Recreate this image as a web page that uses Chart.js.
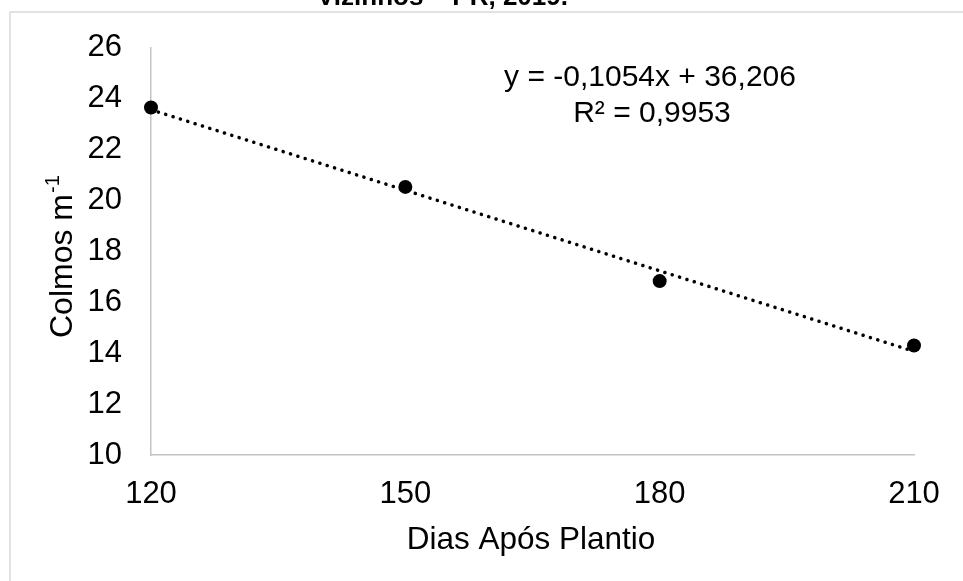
<!DOCTYPE html>
<html>
<head>
<meta charset="utf-8">
<script src="https://cdn.jsdelivr.net/npm/chart.js@4"></script>
<style>
    html, body { margin: 0; padding: 0; background: #ffffff; }
    #chart-wrap { width: 963px; height: 581px; position: relative; }
</style>
</head>
<body>
<div id="chart-wrap"><canvas id="chart-canvas"></canvas></div>
<script>
// Data
const dias = [120, 150, 180, 210];
const colmos = [23.65, 20.53, 16.83, 14.3];

// Linear trendline ends (y = -0,1054x + 36,206)
const trendDias = [120, 210];
const trendColmos = [23.56, 14.07];

const eqLines = ['y = -0,1054x + 36,206', 'R² = 0,9953'];
const captionText = 'Vizinhos – PR, 2019.';
const xTitle = 'Dias Após Plantio';
const yTitle = 'Colmos m';
const yTitleSup = '-1';

const FONT = '"Liberation Sans", Arial, sans-serif';

// Texts that Chart.js can't place the way the figure has them
const extraText = {
    id: 'extraText',
    beforeDraw(chart) {
        const ctx = chart.ctx;
        ctx.save();
        // outer chart frame
        ctx.strokeStyle = '#d9d9d9';
        ctx.lineWidth = 1.5;
        ctx.strokeRect(10, 12, 1100, 800);
        ctx.restore();
    },
    afterDraw(chart) {
        const ctx = chart.ctx;
        const area = chart.chartArea;
        ctx.save();
        ctx.fillStyle = '#000000';

        // caption cut by the top edge
        ctx.font = 'bold 26px ' + FONT;
        ctx.textAlign = 'left';
        ctx.textBaseline = 'alphabetic';
        ctx.fillText(captionText, 317, 5);

        // regression equation
        ctx.font = '30px ' + FONT;
        ctx.textAlign = 'center';
        ctx.fillText(eqLines[0], 650, 86);
        ctx.fillText(eqLines[1], 652, 122);

        // x axis title
        ctx.font = '31.5px ' + FONT;
        ctx.fillText(xTitle, 531, 549);

        // y axis title with superscript
        ctx.translate(72, 338);
        ctx.rotate(-Math.PI / 2);
        ctx.textAlign = 'left';
        ctx.font = '32px ' + FONT;
        ctx.fillText(yTitle, 0, 0);
        const w = ctx.measureText(yTitle).width;
        ctx.font = '20px ' + FONT;
        ctx.fillText(yTitleSup, w + 1, -13);
        ctx.restore();
    }
};

const ctx = document.getElementById('chart-canvas');

new Chart(ctx, {
    type: 'scatter',
    data: {
        datasets: [
            {
                label: 'Tendência',
                data: trendDias.map((d, i) => ({ x: d, y: trendColmos[i] })),
                showLine: true,
                borderColor: '#000000',
                borderWidth: 3.5,
                borderDash: [0.1, 7.6],
                borderCapStyle: 'round',
                pointRadius: 0,
                clip: false,
                order: 2
            },
            {
                label: 'Colmos',
                data: dias.map((d, i) => ({ x: d, y: colmos[i] })),
                backgroundColor: '#000000',
                borderColor: '#000000',
                pointRadius: 7,
                pointBorderWidth: 0,
                clip: false,
                order: 1
            }
        ]
    },
    options: {
        responsive: true,
        maintainAspectRatio: false,
        animation: false,
        layout: {
            padding: { left: 0, top: 44, right: 49, bottom: 0 }
        },
        plugins: {
            legend: { display: false },
            tooltip: { enabled: false },
            title: { display: false }
        },
        scales: {
            x: {
                type: 'linear',
                min: 120,
                max: 210,
                afterFit(scale) { scale.height = 126; },
                ticks: {
                    stepSize: 30,
                    color: '#000000',
                    padding: 21,
                    font: { family: FONT, size: 31 }
                },
                grid: { display: false, drawTicks: false },
                border: { display: true, color: '#c4c4c4', width: 1.5 }
            },
            y: {
                min: 10,
                max: 26,
                afterFit(scale) { scale.width = 151; },
                ticks: {
                    stepSize: 2,
                    color: '#000000',
                    padding: 29,
                    font: { family: FONT, size: 31 }
                },
                grid: { display: false, drawTicks: false },
                border: { display: true, color: '#c4c4c4', width: 1.5 }
            }
        }
    },
    plugins: [extraText]
});
</script>
</body>
</html>
